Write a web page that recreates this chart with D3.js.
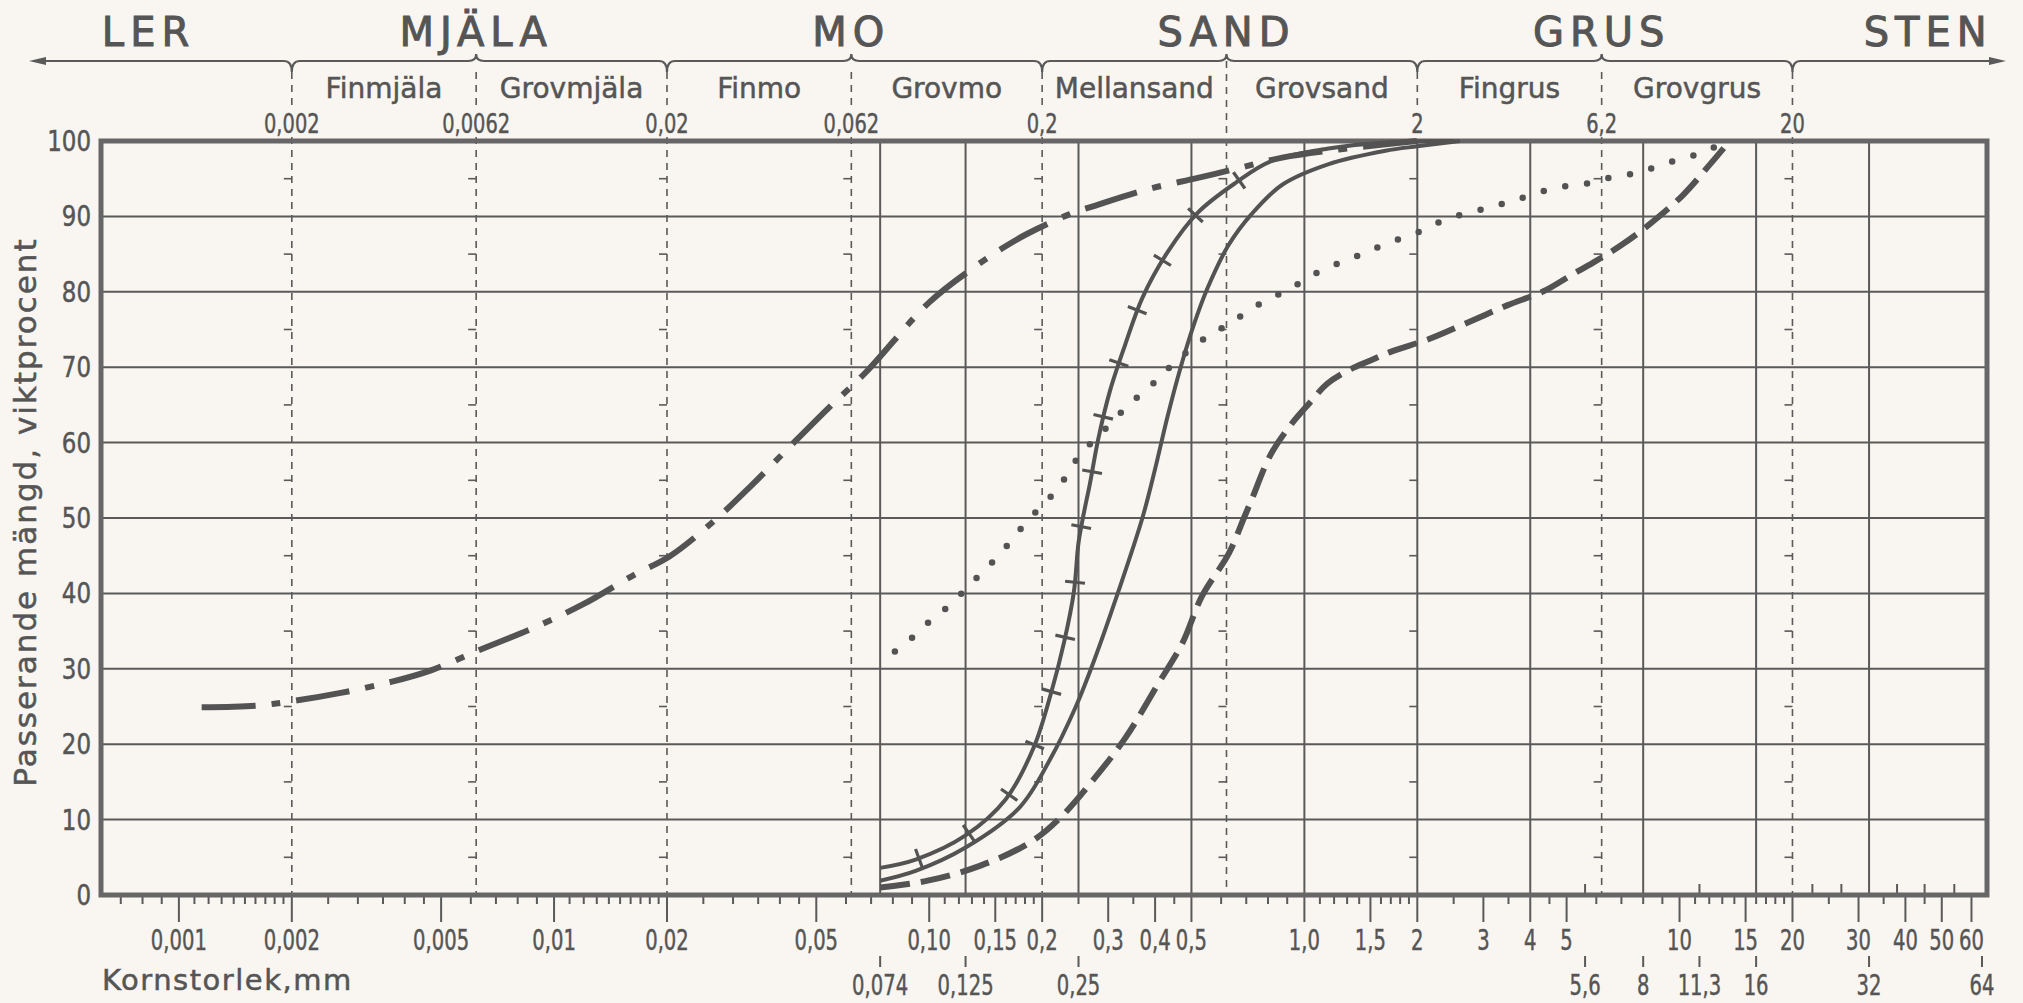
<html>
<head>
<meta charset="utf-8">
<title>Kornfördelning</title>
<script src="https://d3js.org/d3.v7.min.js"></script>
<style>
  body { margin: 0; background: #f9f6f1; }
  svg { display: block; }
  text { fill: #555; stroke: #555; stroke-width: 0.5px; font-family: "DejaVu Sans", "Noto Sans", sans-serif; }
</style>
</head>
<body>
<svg id="chart" width="2023" height="1003"></svg>
<script>
// ---- data (mm, % passing) ----
const dashDotCurve = [[0.00115,24.9],[0.0016,25.1],[0.002,25.7],[0.0027,26.8],[0.0037,28.3],[0.0047,29.8],
  [0.0064,32.6],[0.0087,35.3],[0.012,38.6],[0.0164,42.5],[0.0203,44.9],[0.0264,49.4],[0.0334,54.2],
  [0.0422,59.3],[0.0537,64.5],[0.068,69.4],[0.1,78.6],[0.133,83.4],[0.157,85.8],[0.181,87.6],[0.237,90.3],
  [0.276,91.4],[0.383,93.6],[0.52,95.1],[0.643,96.2],[0.873,97.8],[1.2,98.8],[1.6,99.5],[2.0,100]];
const crossCurve = [[0.074,3.6],[0.092,4.7],[0.125,7.9],[0.16,12.7],[0.19,19.6],[0.211,26.7],[0.229,33.6],
  [0.243,40.2],[0.25,46.7],[0.258,50.5],[0.268,54.5],[0.282,60.4],[0.303,66.8],[0.333,73],[0.37,79.2],
  [0.431,85.2],[0.52,90.5],[0.658,94.5],[0.813,97.3],[1.16,99],[1.65,99.8],[2.5,100]];
const solidCurve = [[0.074,1.9],[0.092,3.2],[0.125,6.3],[0.174,11.6],[0.209,17.8],[0.246,25],[0.277,31.5],
  [0.318,40],[0.37,50],[0.4,56.5],[0.431,63.3],[0.465,69.5],[0.508,75.7],[0.552,80.5],[0.628,86.2],
  [0.723,90.3],[0.873,94.2],[1.156,96.9],[1.645,98.7],[2,99.3],[2.6,100]];
const dottedCurve = [[0.081,32.3],[0.089,33.9],[0.097,35.7],[0.107,37.4],[0.116,38.9],[0.128,41.1],[0.141,43.2],
  [0.155,45.3],[0.169,47.6],[0.185,49.9],[0.204,52.1],[0.221,54],[0.236,56.2],[0.254,58.6],[0.279,60.6],
  [0.34,65],[0.37,66.6],[0.407,68.4],[0.446,70.4],[0.552,74.1],[0.628,75.7],[0.706,77.4],[0.8,79],
  [0.91,80.3],[1.03,82],[1.18,83.4],[1.36,84.6],[1.55,85.8],[1.79,87],[2.08,88.2],[2.38,89.6],[2.76,90.5],
  [3.17,91.3],[3.62,92.1],[4.17,93.1],[4.83,93.9],[5.6,94.3],[6.48,95.1],[7.42,95.6],[8.57,96.5],
  [9.89,97.5],[11.4,98.4],[12.9,99.6]];
const dashedCurve = [[0.074,1.0],[0.099,1.9],[0.137,3.9],[0.186,7.0],[0.224,10.3],[0.277,15.6],[0.334,20.9],
  [0.403,27.6],[0.473,33.4],[0.533,39.6],[0.629,45.3],[0.69,50],[0.723,52.4],[0.813,58.4],[0.915,62.2],
  [1.03,65.2],[1.15,67.8],[1.3,69.5],[1.5,70.9],[1.71,72.1],[2.14,73.7],[2.69,75.8],[3.47,78.2],[4.35,80.1],
  [5.1,82.1],[5.9,83.9],[7.0,86.2],[8.2,88.7],[10.2,92.8],[12.1,97],[13.6,100]];

// fractions along the top
const mainClasses = ["LER", "MJÄLA", "MO", "SAND", "GRUS", "STEN"];
const mainClassAt = [0.00083, 0.0062, 0.062, 0.62, 6.2, 46];
const boundaries = [0.002, 0.02, 0.2, 2, 20];
const midBounds = [0.0062, 0.062, 0.62, 6.2];
const subClasses = ["Finmjäla", "Grovmjäla", "Finmo", "Grovmo", "Mellansand", "Grovsand", "Fingrus", "Grovgrus"];
const subEdges = [0.002, 0.0062, 0.02, 0.062, 0.2, 0.62, 2, 6.2, 20];
const topNumVals = [0.002, 0.0062, 0.02, 0.062, 0.2, 2, 6.2, 20];
const topNumText = ["0,002", "0,0062", "0,02", "0,062", "0,2", "2", "6,2", "20"];

// grid
const sieveLines = [0.074, 0.125, 0.25, 0.5, 1, 2, 4, 8, 16, 32];
const yTicks = [0, 10, 20, 30, 40, 50, 60, 70, 80, 90, 100];
const upTicks = [5.6, 11.3, 22.6, 27, 38, 45, 54];
const minorSteps = [1, 1.1, 1.2, 1.3, 1.4, 1.5, 1.6, 1.7, 1.8, 1.9, 2, 2.5, 3, 3.5, 4, 4.5, 5, 6, 7, 8, 9];
const bottomVals = [0.001, 0.002, 0.005, 0.01, 0.02, 0.05, 0.1, 0.15, 0.2, 0.3, 0.4, 0.5, 1, 1.5, 2, 3, 4, 5, 10, 15, 20, 30, 40, 50, 60];
const bottomText = ["0,001", "0,002", "0,005", "0,01", "0,02", "0,05", "0,10", "0,15", "0,2", "0,3", "0,4", "0,5", "1,0", "1,5", "2", "3", "4", "5", "10", "15", "20", "30", "40", "50", "60"];
const sieveVals = [0.074, 0.125, 0.25, 5.6, 8, 11.3, 16, 32, 64];
const sieveText = ["0,074", "0,125", "0,25", "5,6", "8", "11,3", "16", "32", "64"];

const ink = "#5a5a5a";
const svg = d3.select("#chart");
svg.append("rect").attr("width", 2023).attr("height", 1003).attr("fill", "#f9f6f1");

const x = d3.scaleLog().domain([0.00062, 66]).range([101, 1987]);
const y = d3.scaleLinear().domain([0, 100]).range([895, 141]);

// condensed digits: squeeze horizontally
function ctext(g, px, py, str, size, anchor, sx) {
  return g.append("text")
    .attr("transform", `translate(${px},${py}) scale(${sx},1)`)
    .attr("text-anchor", anchor)
    .style("font-size", size + "px")
    .text(str);
}

// ---- top brace line with arrows ----
const yb = 61;
const knots = boundaries.map(v => ({ v, t: "b" })).concat(midBounds.map(v => ({ v, t: "m" })))
  .sort((a, b) => a.v - b.v);
const bp = d3.path();
bp.moveTo(40, yb);
knots.forEach(k => {
  const kx = x(k.v);
  bp.lineTo(kx - 8, yb);
  if (k.t === "b") {
    bp.quadraticCurveTo(kx, yb, kx, yb + 11);
    bp.moveTo(kx, yb + 11);
    bp.quadraticCurveTo(kx, yb, kx + 8, yb);
  } else {
    bp.quadraticCurveTo(kx, yb, kx, yb - 7);
    bp.quadraticCurveTo(kx, yb, kx + 8, yb);
  }
});
bp.lineTo(1994, yb);
svg.append("path").attr("d", bp.toString()).attr("fill", "none").attr("stroke", ink).attr("stroke-width", 2.2);
svg.append("path").attr("d", `M29,${yb} L46,${yb - 4} L46,${yb + 4} Z`).attr("fill", ink);
svg.append("path").attr("d", `M2006,${yb} L1989,${yb - 4} L1989,${yb + 4} Z`).attr("fill", ink);

svg.selectAll(".main").data(mainClasses).enter().append("text")
  .attr("x", (d, i) => x(mainClassAt[i]))
  .attr("y", 46)
  .attr("text-anchor", "middle")
  .style("font-size", "40px")
  .style("stroke-width", "1px")
  .style("letter-spacing", "6px")
  .text(d => d);

svg.selectAll(".sub").data(subClasses).enter().append("text")
  .attr("x", (d, i) => (x(subEdges[i]) + x(subEdges[i + 1])) / 2)
  .attr("y", 98)
  .attr("text-anchor", "middle")
  .style("font-size", "28px")
  .text(d => d);

topNumVals.forEach((v, i) => ctext(svg, x(v), 133, topNumText[i], 27, "middle", 0.72));

// dashed fraction lines
const dashG = svg.append("g").attr("stroke", ink).attr("stroke-width", 1.6).attr("stroke-dasharray", "7 6");
subEdges.forEach(v => {
  const labelled = topNumVals.includes(v);
  if (labelled) {
    dashG.append("line").attr("x1", x(v)).attr("x2", x(v)).attr("y1", yb + 11).attr("y2", 107);
    if (v !== 2) dashG.append("line").attr("x1", x(v)).attr("x2", x(v)).attr("y1", 137).attr("y2", y(0));
  } else {
    dashG.append("line").attr("x1", x(v)).attr("x2", x(v)).attr("y1", yb).attr("y2", y(0));
  }
});
// little half-step ticks on the fraction lines
const halfSteps = d3.range(5, 100, 10);
subEdges.forEach(v => {
  svg.append("g").selectAll("line").data(halfSteps).enter().append("line")
    .attr("x1", x(v) - 8).attr("x2", x(v))
    .attr("y1", d => y(d)).attr("y2", d => y(d))
    .attr("stroke", ink).attr("stroke-width", 1.6);
});

// ---- grid ----
svg.append("g").selectAll("line").data(yTicks.slice(1, -1)).enter().append("line")
  .attr("x1", x.range()[0]).attr("x2", x.range()[1])
  .attr("y1", d => y(d)).attr("y2", d => y(d))
  .attr("stroke", ink).attr("stroke-width", 2);
svg.append("g").selectAll("line").data(sieveLines).enter().append("line")
  .attr("x1", d => x(d)).attr("x2", d => x(d))
  .attr("y1", y(100)).attr("y2", y(0))
  .attr("stroke", ink).attr("stroke-width", 2);
svg.append("g").selectAll("line").data(upTicks).enter().append("line")
  .attr("x1", d => x(d)).attr("x2", d => x(d))
  .attr("y1", y(0)).attr("y2", y(0) - 11)
  .attr("stroke", ink).attr("stroke-width", 2);

// ---- bottom axis ticks ----
const minors = [];
for (let e = -4; e <= 1; e++) {
  minorSteps.forEach(k => {
    const v = +(k * Math.pow(10, e)).toPrecision(6);
    if (v > x.domain()[0] && v < x.domain()[1]) minors.push(v);
  });
}
svg.append("g").selectAll("line").data(minors).enter().append("line")
  .attr("x1", d => x(d)).attr("x2", d => x(d))
  .attr("y1", y(0)).attr("y2", d => bottomVals.some(b => Math.abs(b - d) / d < 1e-6) ? y(0) + 27 : y(0) + 9)
  .attr("stroke", ink).attr("stroke-width", 2);
bottomVals.forEach((v, i) => ctext(svg, x(v), 950, bottomText[i], 28, "middle", 0.7));
svg.append("g").selectAll("line").data(sieveVals).enter().append("line")
  .attr("x1", d => x(d)).attr("x2", d => x(d))
  .attr("y1", 956).attr("y2", 967)
  .attr("stroke", ink).attr("stroke-width", 2);
sieveVals.forEach((v, i) => ctext(svg, x(v), 995, sieveText[i], 28, "middle", 0.7));

svg.append("text").attr("x", 102).attr("y", 990)
  .style("font-size", "29px").style("letter-spacing", "1.5px")
  .text("Kornstorlek,mm");

// ---- y axis ----
yTicks.forEach(v => ctext(svg, 91, y(v) + 10, String(v), 28, "end", 0.82));
svg.append("text")
  .attr("transform", `translate(36,${(y(0) + y(100)) / 2 - 6}) rotate(-90)`)
  .attr("text-anchor", "middle")
  .style("font-size", "31px").style("letter-spacing", "2px")
  .text("Passerande mängd, viktprocent");

// ---- frame ----
svg.append("rect")
  .attr("x", x.range()[0]).attr("y", y(100))
  .attr("width", x.range()[1] - x.range()[0]).attr("height", y(0) - y(100))
  .attr("fill", "none").attr("stroke", "#666").attr("stroke-width", 5);

// ---- curves ----
const line = d3.line().x(d => x(d[0])).y(d => y(d[1])).curve(d3.curveCatmullRom.alpha(0.5));
const cg = svg.append("g").attr("fill", "none").attr("stroke", "#535353").attr("stroke-linecap", "butt");

cg.append("path").attr("d", line(dashDotCurve)).attr("stroke-width", 6).attr("stroke-dasharray", "54 16 9 16");
cg.append("path").attr("d", line(dashedCurve)).attr("stroke-width", 6).attr("stroke-dasharray", "30 11");
cg.append("path").attr("d", line(dottedCurve)).attr("stroke-width", 6.5).attr("stroke-linecap", "round").attr("stroke-dasharray", "0 22");
cg.append("path").attr("d", line(solidCurve)).attr("stroke-width", 4);
const crossPath = cg.append("path").attr("d", line(crossCurve)).attr("stroke-width", 4);

// cross ticks along the hatched curve
const node = crossPath.node();
const total = node.getTotalLength();
for (let s = 40; s < total; s += 56) {
  const p = node.getPointAtLength(s);
  if (p.y < y(95.5)) break;
  const a = node.getPointAtLength(Math.max(0, s - 3));
  const b = node.getPointAtLength(Math.min(total, s + 3));
  const ang = Math.atan2(b.y - a.y, b.x - a.x) + Math.PI / 2;
  const h = 10;
  cg.append("line")
    .attr("x1", p.x - h * Math.cos(ang)).attr("y1", p.y - h * Math.sin(ang))
    .attr("x2", p.x + h * Math.cos(ang)).attr("y2", p.y + h * Math.sin(ang))
    .attr("stroke-width", 3.2);
}
</script>
</body>
</html>
